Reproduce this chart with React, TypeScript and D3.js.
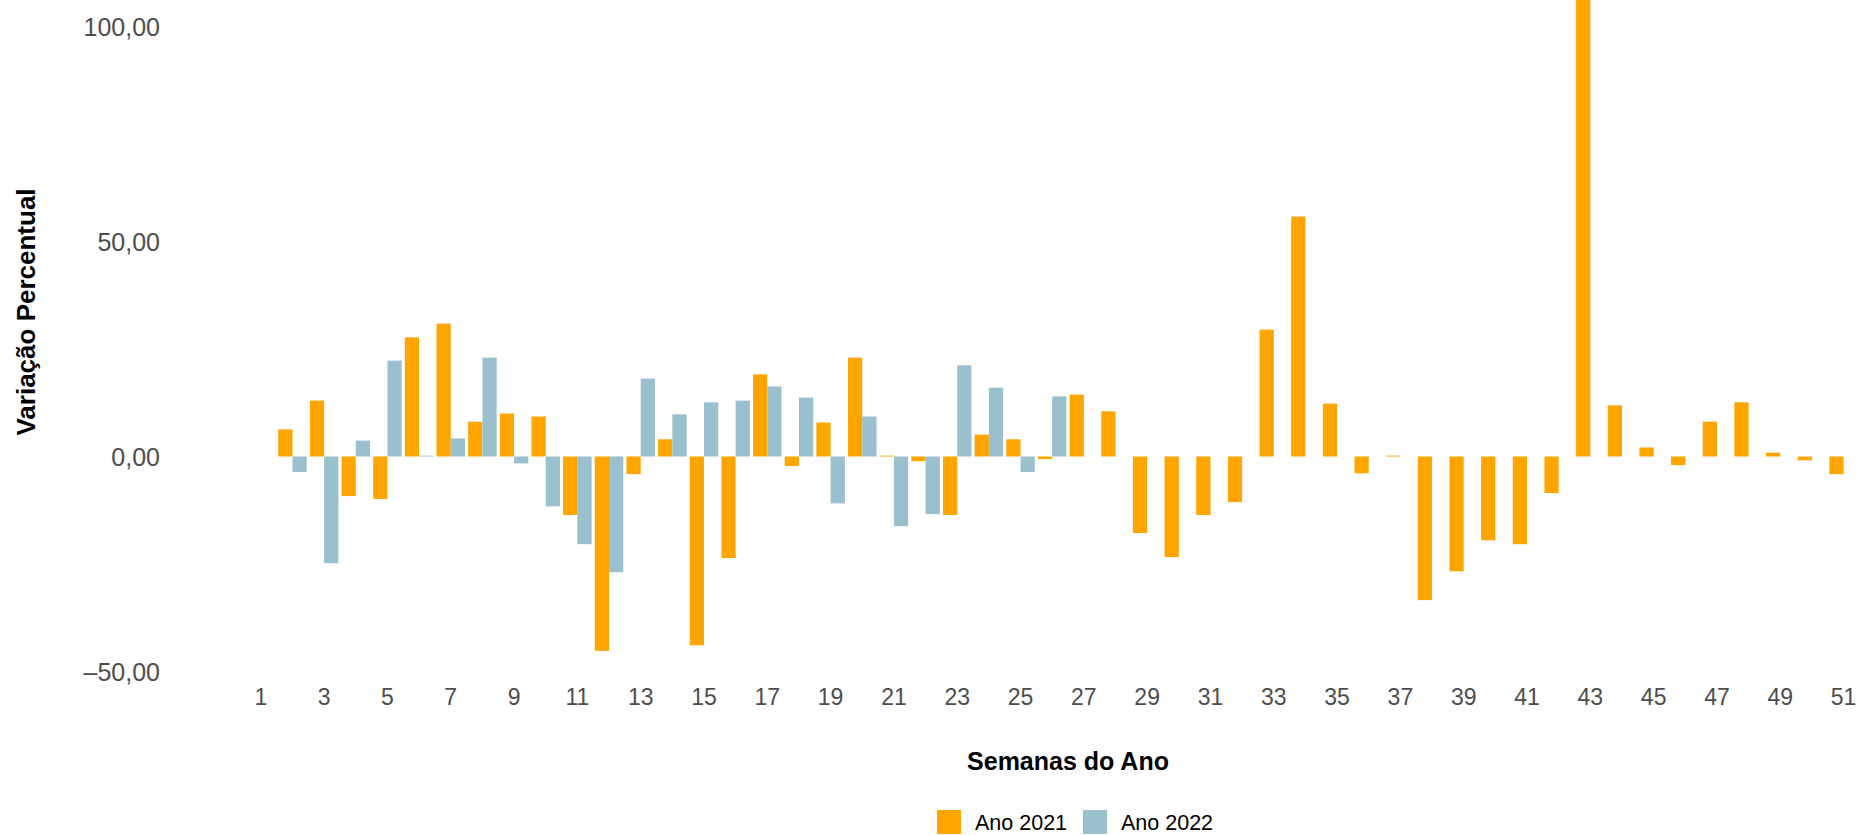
import React from "react";
import * as d3 from "d3";

const weeks: number[] = [
  1, 2, 3, 4, 5, 6, 7, 8, 9, 10, 11, 12, 13, 14, 15, 16, 17, 18, 19, 20, 21, 22, 23, 24, 25, 26,
  27, 28, 29, 30, 31, 32, 33, 34, 35, 36, 37, 38, 39, 40, 41, 42, 43, 44, 45, 46, 47, 48, 49, 50, 51,
];

const ano2021: (number | null)[] = [
  null, 6.3, 13.0, -9.2, -9.9, 27.7, 30.9, 8.1, 10.0, 9.3, -13.6, -45.2, -4.1, 4.0, -43.9, -23.6,
  19.1, -2.2, 7.9, 23.0, 0.2, -1.1, -13.6, 5.1, 4.0, -0.6, 14.4, 10.5, -17.8, -23.4, -13.6, -10.6,
  29.5, 55.8, 12.3, -3.9, 0.2, -33.4, -26.7, -19.5, -20.4, -8.5, 130, 11.9, 2.1, -2.0, 8.1, 12.6,
  0.9, -0.9, -4.1,
];

const ano2022: (number | null)[] = [
  null, -3.6, -24.8, 3.7, 22.3, 0.2, 4.2, 23.0, -1.6, -11.6, -20.4, -26.9, 18.1, 9.8, 12.6, 13.0,
  16.3, 13.7, -10.9, 9.3, -16.2, -13.4, 21.2, 16.0, -3.6, 14.0, null, null, null, null, null, null,
  null, null, null, null, null, null, null, null, null, null, null, null, null, null, null, null,
  null, null, null,
];

const seriesNames: string[] = ["Ano 2021", "Ano 2022"];
const seriesColors: string[] = ["#FFA500", "#9AC0CD"];

const xTickLabels: number[] = [1, 3, 5, 7, 9, 11, 13, 15, 17, 19, 21, 23, 25, 27, 29, 31, 33, 35, 37, 39, 41, 43, 45, 47, 49, 51];
const yTicks: number[] = [-50, 0, 50, 100];

const W = 1859;
const H = 835;
const FONT = "'Liberation Sans', Arial, Helvetica, sans-serif";

const locale = d3.formatLocale({
  decimal: ",",
  thousands: ".",
  grouping: [3],
  currency: ["R$", ""],
  minus: "\u2013",
});
const fmt = locale.format(",.2f");

export default function App() {
  const x = d3
    .scaleBand<string>()
    .domain(weeks.map(String))
    .range([245, 1859.4])
    .padding(0);
  const xInner = d3
    .scaleBand<string>()
    .domain(seriesNames)
    .range([x.bandwidth() * 0.05, x.bandwidth() * 0.95])
    .padding(0);
  const y = d3.scaleLinear().domain([-50, 100]).range([671.5, 26.5]);

  const series = [ano2021, ano2022];

  return (
    <svg
      width={W}
      height={H}
      style={{ position: "absolute", left: 0, top: 0, background: "#fff" }}
      fontFamily={FONT}
    >
      <defs>
        <clipPath id="panel">
          <rect x={0} y={0} width={W} height={690} />
        </clipPath>
      </defs>
      <g clipPath="url(#panel)">
        {series.map((vals, si) =>
          vals.map((v, i) => {
            if (v === null) return null;
            const x0 = (x(String(weeks[i])) as number) + (xInner(seriesNames[si]) as number);
            const y0 = y(Math.max(0, v));
            const y1 = y(Math.min(0, v));
            return (
              <rect
                key={`${si}-${i}`}
                x={x0}
                y={y0}
                width={xInner.bandwidth()}
                height={Math.max(0.8, y1 - y0)}
                fill={seriesColors[si]}
              />
            );
          })
        )}
      </g>
      {yTicks.map((t) => (
        <text
          key={t}
          x={160}
          y={y(t)}
          dy="0.36em"
          textAnchor="end"
          fontSize={25}
          fill="#4D4D4D"
        >
          {fmt(t)}
        </text>
      ))}
      {xTickLabels.map((t) => (
        <text
          key={t}
          x={(x(String(t)) as number) + x.bandwidth() / 2}
          y={697}
          dy="0.36em"
          textAnchor="middle"
          fontSize={23}
          fill="#4D4D4D"
        >
          {t}
        </text>
      ))}
      <text
        x={1068}
        y={761}
        dy="0.36em"
        textAnchor="middle"
        fontSize={25}
        fontWeight="bold"
        fill="#000"
      >
        Semanas do Ano
      </text>
      <text
        transform="translate(35,312) rotate(-90)"
        textAnchor="middle"
        fontSize={26}
        fontWeight="bold"
        fill="#000"
      >
        Variação Percentual
      </text>
      {seriesNames.map((name, i) => {
        const kx = [937, 1083][i];
        return (
          <g key={name}>
            <rect x={kx} y={810} width={24} height={24} fill={seriesColors[i]} />
            <text x={kx + 38} y={822} dy="0.36em" fontSize={21.5} fill="#000">
              {name}
            </text>
          </g>
        );
      })}
    </svg>
  );
}
